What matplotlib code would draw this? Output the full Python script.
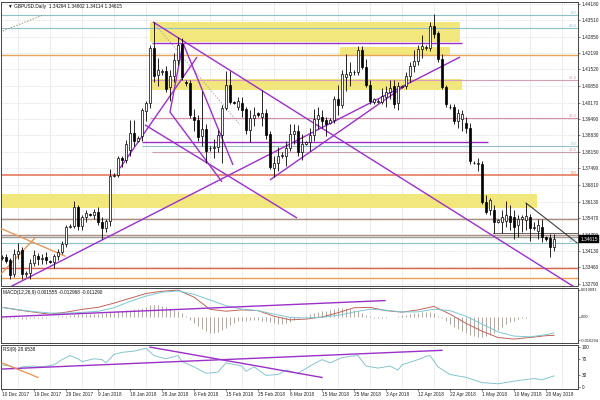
import matplotlib
matplotlib.use('Agg')
import matplotlib.pyplot as plt
import matplotlib.transforms as mtransforms
import numpy as np

plt.rcParams['font.family'] = ['Liberation Sans', 'DejaVu Sans']

# ---------------- data (GBPUSD daily) ----------------
opens = [1.3385,1.3388,1.3376,1.3318,1.3400,1.3415,1.3318,1.3322,1.3365,1.3392,
         1.3380,1.3390,1.3372,1.3370,1.3392,1.3408,1.3442,1.3510,1.3516,1.3590,
         1.3515,1.3550,1.3562,1.3560,1.3570,1.3530,1.3508,1.3535,1.3720,1.3722,
         1.3792,1.3785,1.3822,1.3895,1.3862,1.3880,1.3982,1.4015,1.4240,1.4130,
         1.4142,1.4145,1.4080,1.4125,1.4190,1.4255,1.4102,1.4098,1.3960,1.3945,
         1.3880,1.3910,1.3830,1.3830,1.3838,1.3885,1.3995,1.4090,1.4020,1.4000,
         1.4015,1.3990,1.3905,1.3955,1.3975,1.3960,1.3975,1.3890,1.3750,1.3770,
         1.3800,1.3800,1.3830,1.3890,1.3900,1.3815,1.3850,1.3855,1.3885,1.3950,
         1.3960,1.3945,1.3935,1.3945,1.4030,1.4005,1.4120,1.4130,1.4140,1.4140,
         1.4230,1.4160,1.4090,1.4020,1.4020,1.4020,1.4040,1.4060,1.4085,1.4015,
         1.4080,1.4085,1.4125,1.4165,1.4185,1.4235,1.4240,1.4240,1.4330,1.4300,
         1.4195,1.4080,1.4000,1.3998,1.3940,1.3950,1.3935,1.3915,1.3772,1.3765,
         1.3765,1.3612,1.3580,1.3580,1.3530,1.3530,1.3535,1.3555,1.3550,1.3520,
         1.3545,1.3540,1.3550,1.3505,1.3495,1.3510,1.3468,1.3466,1.34294]
highs = [1.3395,1.3402,1.3385,1.3420,1.3445,1.3430,1.3330,1.3380,1.3415,1.3405,
         1.3400,1.3410,1.3378,1.3400,1.3420,1.3452,1.3520,1.3522,1.3615,1.3600,
         1.3560,1.3580,1.3567,1.3585,1.3590,1.3550,1.3545,1.3745,1.3730,1.3800,
         1.3800,1.3865,1.3945,1.3945,1.3880,1.3995,1.4025,1.4250,1.4345,1.4200,
         1.4155,1.4165,1.4150,1.4220,1.4285,1.4280,1.4110,1.4110,1.3990,1.3965,
         1.4065,1.3930,1.3840,1.3870,1.3905,1.4005,1.4145,1.4145,1.4025,1.4040,
         1.4040,1.4000,1.3985,1.4000,1.3980,1.4068,1.3990,1.3900,1.3800,1.3835,
         1.3815,1.3860,1.3930,1.3930,1.3925,1.3890,1.3862,1.3915,1.3990,1.4000,
         1.3985,1.3960,1.3955,1.4045,1.4090,1.4150,1.4215,1.4180,1.4150,1.4245,
         1.4245,1.4195,1.4110,1.4035,1.4030,1.4075,1.4085,1.4110,1.4110,1.4100,
         1.4090,1.4140,1.4180,1.4230,1.4250,1.4290,1.4250,1.4345,1.4377,1.4310,
         1.4215,1.4090,1.4010,1.4010,1.3990,1.3985,1.3960,1.3935,1.3780,1.3790,
         1.3780,1.3640,1.3630,1.3600,1.3545,1.3580,1.3615,1.3600,1.3580,1.3560,
         1.3560,1.3608,1.3565,1.3530,1.3545,1.3545,1.3475,1.3480,1.34802]
lows = [1.3378,1.3362,1.3300,1.3308,1.3380,1.3300,1.3305,1.3300,1.3350,1.3355,
        1.3360,1.3360,1.3362,1.3345,1.3375,1.3400,1.3430,1.3505,1.3505,1.3500,
        1.3500,1.3530,1.3555,1.3545,1.3520,1.3462,1.3490,1.3515,1.3712,1.3715,
        1.3755,1.3770,1.3800,1.3840,1.3855,1.3860,1.3940,1.3995,1.4100,1.4085,
        1.4130,1.4060,1.4025,1.4100,1.4170,1.4110,1.4085,1.3955,1.3900,1.3860,
        1.3840,1.3770,1.3820,1.3790,1.3815,1.3770,1.3985,1.4010,1.4010,1.3985,
        1.3960,1.3890,1.3855,1.3920,1.3960,1.3920,1.3870,1.3745,1.3712,1.3740,
        1.3790,1.3760,1.3820,1.3850,1.3800,1.3785,1.3845,1.3820,1.3860,1.3910,
        1.3915,1.3880,1.3930,1.3935,1.3965,1.3995,1.4065,1.4085,1.4130,1.4130,
        1.4155,1.4080,1.4010,1.4010,1.4015,1.4010,1.4000,1.4030,1.3995,1.3985,
        1.4075,1.4070,1.4100,1.4140,1.4170,1.4200,1.4232,1.4225,1.4280,1.4180,
        1.4070,1.4000,1.3990,1.3930,1.3915,1.3900,1.3895,1.3765,1.3765,1.3740,
        1.3605,1.3565,1.3560,1.3485,1.3525,1.3485,1.3510,1.3500,1.3460,1.3470,
        1.3490,1.3500,1.3455,1.3500,1.3460,1.3450,1.3455,1.3388,1.34114]
closes = [1.3390,1.3372,1.3315,1.3400,1.3412,1.3320,1.3322,1.3365,1.3395,1.3380,
          1.3386,1.3376,1.3368,1.3392,1.3410,1.3442,1.3510,1.3516,1.3590,1.3515,
          1.3550,1.3566,1.3560,1.3570,1.3532,1.3505,1.3535,1.3720,1.3724,1.3790,
          1.3782,1.3850,1.3895,1.3860,1.3872,1.3985,1.4015,1.4240,1.4125,1.4150,
          1.4145,1.4070,1.4125,1.4190,1.4250,1.4120,1.4098,1.3965,1.3945,1.3875,
          1.3910,1.3820,1.3832,1.3838,1.3885,1.3995,1.4090,1.4020,1.4015,1.4022,
          1.3985,1.3905,1.3955,1.3965,1.3965,1.3975,1.3885,1.3755,1.3770,1.3800,
          1.3805,1.3830,1.3890,1.3900,1.3815,1.3850,1.3855,1.3885,1.3950,1.3965,
          1.3940,1.3930,1.3945,1.4030,1.4005,1.4135,1.4135,1.4140,1.4142,1.4230,
          1.4160,1.4090,1.4025,1.4030,1.4025,1.4045,1.4060,1.4075,1.4010,1.4085,
          1.4085,1.4125,1.4165,1.4185,1.4235,1.4245,1.4242,1.4330,1.4295,1.4195,
          1.4080,1.4010,1.3998,1.3940,1.3975,1.3970,1.3915,1.3780,1.3770,1.3772,
          1.3612,1.3572,1.3620,1.3530,1.3540,1.3550,1.3560,1.3530,1.3510,1.3545,
          1.3552,1.3555,1.3505,1.3510,1.3520,1.3470,1.3460,1.3429,1.34615]

date_labels = ['10 Dec 2017', '19 Dec 2017', '29 Dec 2017', '9 Jan 2018', '18 Jan 2018',
               '28 Jan 2018', '6 Feb 2018', '15 Feb 2018', '25 Feb 2018', '6 Mar 2018',
               '15 Mar 2018', '25 Mar 2018', '3 Apr 2018', '12 Apr 2018', '22 Apr 2018',
               '1 May 2018', '10 May 2018', '20 May 2018']
price_ticks = [1.44180, 1.43510, 1.42850, 1.42190, 1.41520, 1.40850, 1.40170, 1.39490,
               1.38830, 1.38150, 1.37490, 1.36810, 1.36130, 1.35470, 1.34790, 1.34130,
               1.33460, 1.32790]

# MACD (x 0.001), sampled along the bars
macd_bars = [0,4,8,12,16,20,24,28,32,36,40,44,48,52,56,60,64,68,72,76,80,84,88,92,
             96,100,104,108,112,116,120,124,128,132,136,138]
macd_main = [6.8,5.0,3.4,2.0,3.4,5.4,6.8,9.8,13.2,16.6,18.2,19.0,14.0,5.4,4.1,5.0,4.5,0.5,
             -2.0,-1.5,0.0,3.0,6.5,6.8,4.5,3.4,5.0,7.5,2.0,-4.5,-10.0,-14.5,-15.6,-14.5,-13.2,-13.0]
macd_signal = [6.8,5.2,3.8,2.8,2.7,3.2,4.0,6.5,11.0,14.8,17.5,18.4,16.0,12.0,8.0,5.5,4.5,2.0,
               -0.3,-0.7,-0.2,1.2,3.5,5.5,4.8,3.6,3.6,5.5,4.5,0.5,-5.0,-10.5,-13.5,-14.0,-12.5,-11.3]
macd_hist = [-0.7,-0.8,-0.9,-1.0,-1.0,-1.1,-1.1,-1.0,-0.9,-0.8,-0.7,-0.5,-0.3,
             0.2,0.4,0.6,0.9,1.2,1.6,1.9,2.1,2.2,2.3,2.4,2.4,
             2.5,2.6,3.2,3.6,4.0,4.3,4.6,5.0,5.5,5.9,6.5,7.3,
             8.5,8.8,8.4,8.0,7.2,6.0,5.0,4.0,2.5,
             0.5,-2.0,-4.5,-6.5,-8.5,-10.0,-11.0,-11.0,-10.5,-9.5,-8.0,-6.0,-4.0,
             -3.0,-2.5,-2.5,-2.0,-2.0,-2.0,-2.5,-3.0,-3.5,
             -4.5,-5.0,-5.0,-4.5,-3.5,-2.0,
             -1.0,0.0,1.0,2.0,3.0,
             3.5,4.0,4.5,5.0,5.5,6.0,6.0,6.0,5.5,5.0,4.0,3.0,
             1.5,0.5,-0.5,-1.0,-1.0,-0.8,-0.3,
             0.3,0.8,1.2,1.5,2.0,2.5,3.0,3.5,3.5,3.2,2.5,1.0,
             -1.0,-3.0,-5.0,-7.0,-8.5,-10.0,-11.5,-12.5,-13.5,-14.0,-14.0,-13.5,-12.5,-11.0,-9.0,-7.0,-5.0,
             -3.5,-2.5,-1.5,-1.0,-0.5,-0.3,-0.2,-0.1,0.0,0.0,0.0,0.0]

rsi_bars = [0,2,4,5,8,10,13,15,17,19,20,23,25,26,28,30,33,36,38,41,44,45,48,51,54,56,60,61,
            63,66,69,71,74,77,80,82,85,87,89,91,94,97,99,100,104,106,107,109,112,116,120,124,
            129,133,135,138]
rsi_vals = [56,53,45,51,53,51,56,69,79,71,64,71,69,61,82,87,90,97,79,71,79,64,51,35,38,61,53,40,
            51,30,32,43,35,53,69,61,74,77,79,53,48,53,43,56,69,77,79,51,32,25,12,9,17,22,19,28.65]

# drawn objects (levels in price, trend lines as (bar, price) pairs)
fib_levels = [1.4373, 1.4320, 1.4109, 1.3954, 1.3840, 1.3816, 1.3722, 1.3445]
fib_texts = ['0.0', '23.6', '61.8', '38.2', '0.0', '23.6', '0.0', '23.6']
sr_levels = [1.4210, 1.3543, 1.3478, 1.3470, 1.3344, 1.3303]
zones = [(37, 114.5, 1.4263, 1.4345), (84.5, 112, 1.4206, 1.4243),
         (37.5, 115, 1.4068, 1.4113), (-1, 133.75, 1.3588, 1.3645)]
purple_lines = [[(37.75, 1.4345), (143.5, 1.3262)],
                [(1.5, 1.3262), (114.5, 1.4202)],
                [(67, 1.3702), (101, 1.4088)],
                [(35.75, 1.3926), (73.75, 1.3547)],
                [(45.25, 1.4259), (57.75, 1.3763)],
                [(29.5, 1.3750), (48.75, 1.4202)],
                [(45.25, 1.4259), (42, 1.3978), (55, 1.3694)],
                [(37.5, 1.4259), (115, 1.4259)],
                [(35, 1.3856), (121.5, 1.3856)]]
orange_lines = [[(-0.5, 1.3506), (15.75, 1.3392)], [(-0.5, 1.3315), (8.25, 1.3466)]]

# ---------------- figure ----------------
W, H = 600, 400
fig = plt.figure(figsize=(6, 4), dpi=100)
fig.patch.set_facecolor('white')

def rect(x0, y0, x1, y1):
    return [x0 / W, 1 - y1 / H, (x1 - x0) / W, (y1 - y0) / H]

ax = fig.add_axes(rect(1, 2, 578, 286))
axm = fig.add_axes(rect(1, 288, 578, 343), sharex=ax)
axr = fig.add_axes(rect(1, 345, 578, 389), sharex=ax)

n = len(closes)
x = np.arange(n)
o = np.array(opens); h = np.array(highs); l = np.array(lows); c = np.array(closes)
XL = (-0.25, 144.0)

FS = 3.4
purple = '#9b30c8'
teal = '#8fc0c8'
for a in (ax, axm, axr):
    a.set_facecolor('white')
    for s in a.spines.values():
        s.set_color('#444444'); s.set_linewidth(0.7)
    for g in range(4, 144, 8):
        a.axvline(g, color='#c8c8c8', lw=0.45, ls=(0, (1.5, 1.5)), zorder=0)
    a.tick_params(axis='both', labelsize=FS, length=1.5, width=0.4, pad=1, colors='#222222')
    a.yaxis.tick_right()

# main panel
ax.set_xlim(*XL)
ax.set_ylim(1.32703, 1.44261)
for pt in price_ticks:
    ax.axhline(pt, color='#d0d0d0', lw=0.45, ls=(0, (1.5, 1.5)), zorder=0)
ax.set_yticks(price_ticks)
ax.set_yticklabels(['%.5f' % v for v in price_ticks])

for (x0, x1, y0, y1) in zones:
    ax.fill_between([x0, x1], y0, y1, color='#f1e77c', lw=0, zorder=1)

fib_colors = [teal, teal, '#d6a0b8', '#d690a4', teal, '#c8a0ac', '#e2704e', teal]
fib_start = [XL[0], XL[0], 37, 37, 35, 37.5, XL[0], XL[0]]
for lv, tx, col, st in zip(fib_levels, fib_texts, fib_colors, fib_start):
    ax.hlines(lv, st, XL[1], color=col, lw=0.8 if col != '#e2704e' else 1.1, zorder=2)
    ax.text(XL[1] - 0.4, lv, tx, color=col, fontsize=3.0, ha='right', va='bottom', zorder=6)
sr_colors = ['#e8a458', '#ab9080', '#ab9080', '#9a9a9a', '#e06050', '#e8a050']
for lv, col in zip(sr_levels, sr_colors):
    ax.axhline(lv, color=col, lw=1.0, zorder=2)

# May channel lines
ax.plot([122.75, XL[1]], [1.3486, 1.3486], color='#606060', lw=0.7, zorder=2)
ax.plot([131, 143.75], [1.3608, 1.3446], color='#404040', lw=0.8, zorder=2)

for ln in purple_lines:
    bx, py = zip(*ln)
    ax.plot(bx, py, color=purple, lw=1.0, zorder=5, solid_capstyle='butt')
for ln in orange_lines:
    bx, py = zip(*ln)
    ax.plot(bx, py, color='#e89050', lw=0.9, zorder=5)
ax.plot([-0.5, 10.25], [1.4304, 1.4373], color='#a09080', lw=0.7, ls=(0, (1.5, 1.5)), zorder=2)
ax.plot([37.75, 59.5], [1.4345, 1.3926], color='#b8a0a8', lw=0.7, ls=(0, (1.5, 1.5)), zorder=2)

# candles
ax.vlines(x, l, h, color='black', lw=0.6, zorder=6)
up = c >= o
bot = np.minimum(o, c)
ht = np.maximum(np.abs(c - o), 0.00012)
ax.bar(x[up], ht[up], bottom=bot[up], width=0.72, color='white', edgecolor='black', lw=0.5, zorder=7)
ax.bar(x[~up], ht[~up], bottom=bot[~up], width=0.72, color='black', edgecolor='black', lw=0.5, zorder=7)

ax.text(0.012, 0.993, '\u25bc GBPUSD.Daily  1.34294 1.34802 1.34114 1.34615', transform=ax.transAxes,
        fontsize=FS, va='top', ha='left', color='#111111', family=['Liberation Sans', 'DejaVu Sans'])
trans = mtransforms.blended_transform_factory(ax.transAxes, ax.transData)
ax.text(1.004, closes[-1], '%.5f' % closes[-1], transform=trans, fontsize=FS, color='white',
        va='center', ha='left', zorder=10,
        bbox=dict(boxstyle='square,pad=0.25', fc='black', ec='black', lw=0.3))
plt.setp(ax.get_xticklabels(), visible=False)
ax.tick_params(axis='x', length=0)

# MACD panel
axm.set_ylim(-0.01838, 0.02048)
axm.set_yticks([0.019091, 0.0, -0.016294])
axm.set_yticklabels(['0.019091', '0.00', '-0.016294'])
axm.tick_params(axis='y', labelsize=2.9, pad=0.6, length=1.2)
axm.vlines(x, 0, np.array(macd_hist) / 1000.0, color='#a89888', lw=0.6, zorder=2)
axm.plot(macd_bars, np.array(macd_main) / 1000.0, color='#c0645a', lw=0.7, zorder=3)
axm.plot(macd_bars, np.array(macd_signal) / 1000.0, color='#7cc8d0', lw=0.7, zorder=3)
axm.plot([-0.25, 95.75], [0.0, 0.0116], color=purple, lw=1.0, zorder=4)
axm.text(0.004, 0.97, 'MACD(12,26,9) 0.001555 -0.012968 -0.011290', transform=axm.transAxes,
         fontsize=FS, va='top', ha='left', color='#111111')
plt.setp(axm.get_xticklabels(), visible=False)
axm.tick_params(axis='x', length=0)

# RSI panel
axr.set_ylim(-3.9, 105.2)
axr.set_yticks([100, 70, 30, 0])
axr.set_yticklabels(['100', '70', '30', '0'])
axr.plot(rsi_bars, rsi_vals, color='#86c4cc', lw=0.7, zorder=3)
axr.plot([-0.25, 110], [45.5, 92], color=purple, lw=1.0, zorder=4)
axr.plot([37, 80], [100, 24.7], color=purple, lw=1.0, zorder=4)
axr.plot([0, 9], [61, 24.7], color='#e89050', lw=0.9, zorder=4)
axr.text(0.004, 0.96, 'RSI(9) 28.6538', transform=axr.transAxes,
         fontsize=FS, va='top', ha='left', color='#111111')
axr.set_xticks(range(0, 8 * len(date_labels), 8))
axr.set_xticklabels(date_labels)
for t in axr.get_xticklabels():
    t.set_ha('left')
axr.set_xlim(*XL)

fig.savefig('out.png', dpi=100, facecolor='white')
